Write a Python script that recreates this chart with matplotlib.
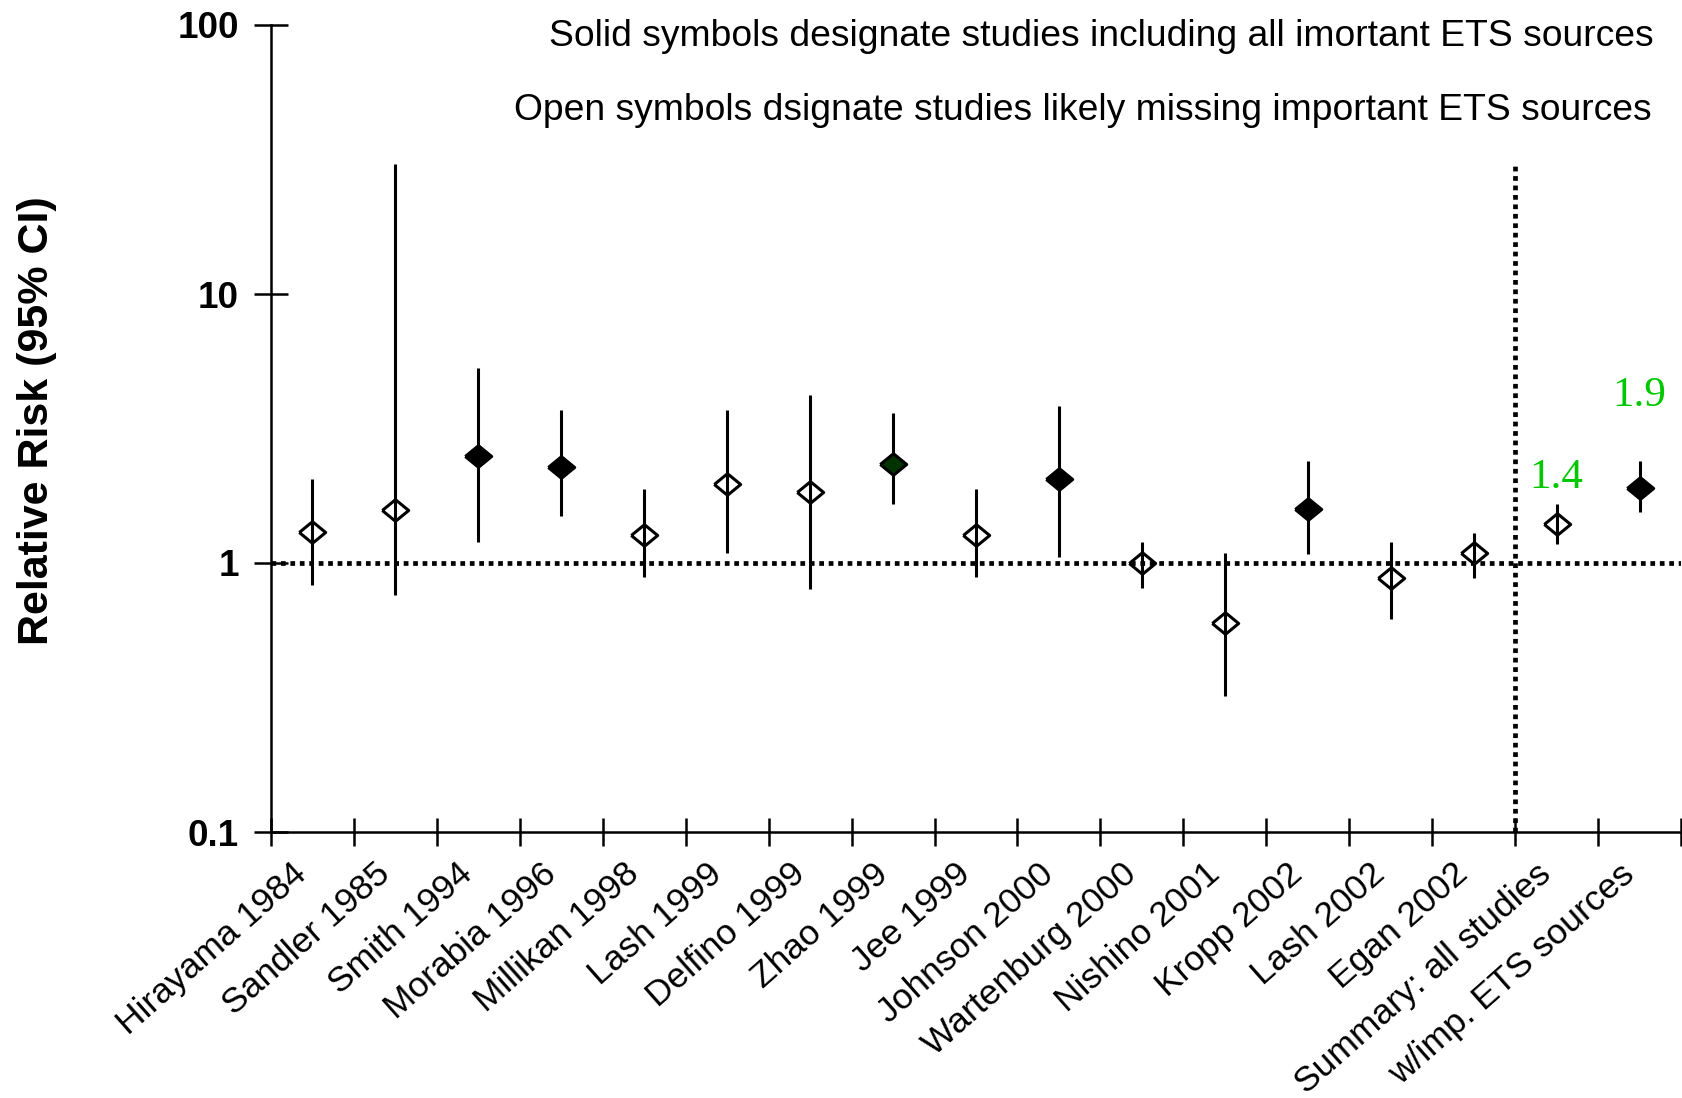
import matplotlib
matplotlib.use("Agg")
import matplotlib.pyplot as plt
import numpy as np
from matplotlib.ticker import FixedLocator, NullLocator
from matplotlib.transforms import ScaledTranslation

plt.rcParams['font.family'] = ['Liberation Sans', 'DejaVu Sans']

studies = ["Hirayama 1984", "Sandler 1985", "Smith 1994", "Morabia 1996",
           "Millikan 1998", "Lash 1999", "Delfino 1999", "Zhao 1999",
           "Jee 1999", "Johnson 2000", "Wartenburg 2000", "Nishino 2001",
           "Kropp 2002", "Lash 2002", "Egan 2002",
           "Summary: all studies", "w/imp. ETS sources"]
rr = [1.30, 1.58, 2.50, 2.28, 1.27, 1.97, 1.83, 2.33, 1.27, 2.05,
      1.00, 0.60, 1.59, 0.88, 1.09, 1.4, 1.9]
ci_low = [0.83, 0.76, 1.20, 1.50, 0.89, 1.09, 0.80, 1.66, 0.89, 1.05,
          0.81, 0.32, 1.08, 0.62, 0.88, 1.18, 1.55]
ci_high = [2.06, 30.5, 5.32, 3.70, 1.88, 3.70, 4.20, 3.62, 1.88, 3.83,
           1.20, 1.09, 2.40, 1.20, 1.29, 1.66, 2.39]
# True = study covers all important ETS sources (solid symbol)
solid = [False, False, True, True, False, False, False, True, False, True,
         False, False, True, False, False, False, True]
summary_labels = {15: 2.08, 16: 4.2}   # index -> y of the printed estimate

rr = np.array(rr)
lo = np.array(ci_low)
hi = np.array(ci_high)
x = np.arange(len(studies)) + 0.5

fig = plt.figure(figsize=(16.83, 10.98), dpi=100)
ax = fig.add_axes([271 / 1683, 266 / 1098, 1410 / 1683, 807 / 1098])
ax.set_yscale('log')
ax.set_ylim(0.1, 100)
ax.set_xlim(0, len(studies))

# reference lines
ax.axhline(1, color='black', lw=3.4, ls=(0, (1, 1)), dash_capstyle='butt', zorder=1)
ax.plot([15, 15], [0.1, 30], color='black', lw=3.4, ls=(0, (1, 1)),
        dash_capstyle='butt', zorder=1)

ax.errorbar(x, rr, yerr=[rr - lo, hi - rr], fmt='none', ecolor='black',
            elinewidth=2.2, capsize=0, zorder=2)

diamond = [(-1, 0), (0, 0.82), (1, 0), (0, -0.82), (-1, 0)]
for i in range(len(studies)):
    if solid[i]:
        fc = '#003300' if studies[i] == "Zhao 1999" else 'black'
    else:
        fc = 'none'
    ax.plot(x[i], rr[i], marker=diamond, markersize=19, markerfacecolor=fc,
            markeredgecolor='black', markeredgewidth=2.2, ls='none', zorder=3)

for i, ty in summary_labels.items():
    ax.text(x[i], ty, f"{rr[i]:.1f}", color='#00c800', fontsize=31,
            family='Liberation Serif', ha='center', va='center')

# axes styling
for s in ['top', 'right']:
    ax.spines[s].set_visible(False)
for s in ['left', 'bottom']:
    ax.spines[s].set_linewidth(1.8)

ax.yaxis.set_major_locator(FixedLocator([0.1, 1, 10, 100]))
ax.yaxis.set_minor_locator(NullLocator())
ax.set_yticklabels(["0.1", "1", "10", "100"], fontsize=26.5, fontweight='bold')
ax.tick_params(axis='y', which='major', direction='inout', length=24, width=1.8, pad=11)

ax.xaxis.set_major_locator(FixedLocator(x))
ax.xaxis.set_minor_locator(FixedLocator(np.arange(len(studies) + 1)))
ax.set_xticklabels(studies, fontsize=25.5, rotation=41.5, ha='right',
                   va='center', rotation_mode='anchor')
ax.tick_params(axis='x', which='major', length=0, pad=27)
ax.tick_params(axis='x', which='minor', direction='inout', length=20, width=1.8)
shift = ScaledTranslation(-0.10, 0, fig.dpi_scale_trans)
for lab in ax.get_xticklabels():
    lab.set_transform(lab.get_transform() + shift)

fig.text(37.5 / 1683, 1 - 421 / 1098, "Relative Risk (95% CI)", rotation=90,
         fontsize=31, fontweight='bold', ha='center', va='center')

fig.text(1654 / 1683, 1 - 36 / 1098,
         "Solid symbols designate studies including all imortant ETS sources",
         fontsize=26.8, ha='right', va='center')
fig.text(1652 / 1683, 1 - 110 / 1098,
         "Open symbols dsignate studies likely missing important ETS sources",
         fontsize=26.8, ha='right', va='center')

fig.savefig("out.png", dpi=100)
